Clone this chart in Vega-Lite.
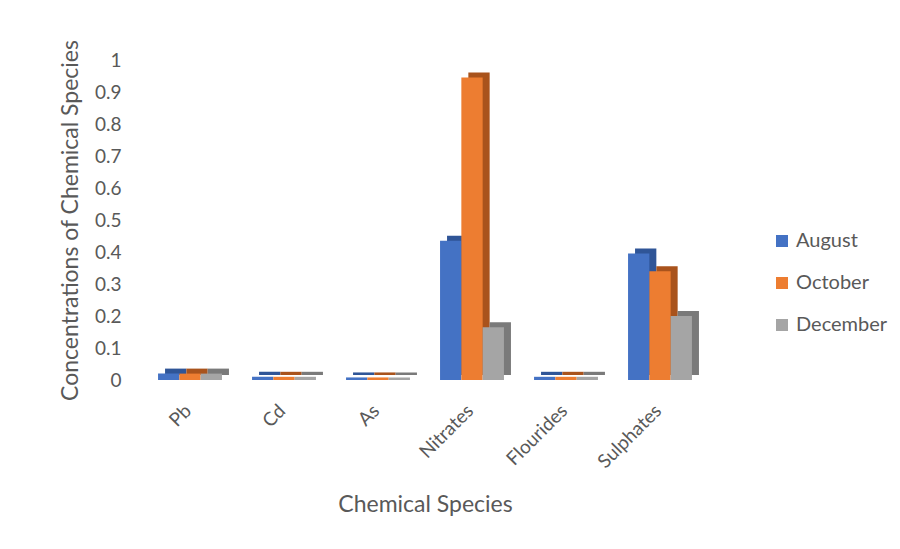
{
  "$schema": "https://vega.github.io/schema/vega-lite/v6.json",
  "autosize": "none",
  "width": 564,
  "height": 320,
  "padding": {"left": 143, "top": 60, "right": 193, "bottom": 169},
  "background": "white",
  "config": {
    "view": {"stroke": null},
    "font": "Lato",
    "axis": {"labelColor": "#595959", "titleColor": "#595959", "labelFont": "Lato", "titleFont": "Lato", "titleFontWeight": "normal"}
  },
  "data": {
    "values": [
      {"species": "Pb", "month": "August", "value": 0.02},
      {"species": "Pb", "month": "October", "value": 0.02},
      {"species": "Pb", "month": "December", "value": 0.02},
      {"species": "Cd", "month": "August", "value": 0.01},
      {"species": "Cd", "month": "October", "value": 0.01},
      {"species": "Cd", "month": "December", "value": 0.01},
      {"species": "As", "month": "August", "value": 0.008},
      {"species": "As", "month": "October", "value": 0.008},
      {"species": "As", "month": "December", "value": 0.008},
      {"species": "Nitrates", "month": "August", "value": 0.435},
      {"species": "Nitrates", "month": "October", "value": 0.945},
      {"species": "Nitrates", "month": "December", "value": 0.165},
      {"species": "Flourides", "month": "August", "value": 0.01},
      {"species": "Flourides", "month": "October", "value": 0.01},
      {"species": "Flourides", "month": "December", "value": 0.01},
      {"species": "Sulphates", "month": "August", "value": 0.395},
      {"species": "Sulphates", "month": "October", "value": 0.34},
      {"species": "Sulphates", "month": "December", "value": 0.2}
    ]
  },
  "encoding": {
    "x": {
      "field": "species",
      "type": "nominal",
      "sort": ["Pb", "Cd", "As", "Nitrates", "Flourides", "Sulphates"],
      "scale": {"paddingInner": 0.32, "paddingOuter": 0.16},
      "axis": {
        "title": "Chemical Species",
        "titleFontSize": 23,
        "titlePadding": 22,
        "labelAngle": -45,
        "labelAlign": "right",
        "labelBaseline": "top",
        "labelFontSize": 19,
        "labelPadding": 21,
        "labelOffset": -8,
        "domain": false,
        "ticks": false
      }
    },
    "y": {
      "field": "value",
      "type": "quantitative",
      "scale": {"domain": [0, 1]},
      "axis": {
        "title": "Concentrations of Chemical Species",
        "titleFontSize": 23,
        "titlePadding": 12,
        "labelFontSize": 19,
        "labelPadding": 22,
        "labelOverlap": false,
        "format": "~g",
        "values": [0, 0.1, 0.2, 0.3, 0.4, 0.5, 0.6, 0.7, 0.8, 0.9, 1],
        "domain": false,
        "ticks": false,
        "grid": false
      }
    }
  },
  "layer": [
    {
      "mark": {"type": "bar", "yOffset": -5},
      "encoding": {
        "xOffset": {
          "field": "month",
          "type": "nominal",
          "sort": ["August", "October", "December"],
          "scale": {"paddingInner": 0, "range": [7, 70.92]}
        },
        "color": {
          "field": "month",
          "type": "nominal",
          "scale": {"domain": ["August", "October", "December"], "range": ["#2F5597", "#A9531C", "#7A7A7A"]},
          "legend": null
        }
      }
    },
    {
      "mark": {"type": "bar"},
      "encoding": {
        "xOffset": {
          "field": "month",
          "type": "nominal",
          "sort": ["August", "October", "December"],
          "scale": {"paddingInner": 0}
        },
        "color": {
          "field": "month",
          "type": "nominal",
          "scale": {"domain": ["August", "October", "December"], "range": ["#4472C4", "#ED7D31", "#A5A5A5"]},
          "legend": {
            "title": null,
            "orient": "none",
            "legendX": 629,
            "legendY": 171,
            "symbolType": "square",
            "symbolSize": 144,
            "symbolStrokeWidth": 0,
            "labelFontSize": 20,
            "labelColor": "#595959",
            "labelFont": "Lato",
            "rowPadding": 22,
            "labelOffset": 4
          }
        }
      }
    }
  ],
  "resolve": {"scale": {"color": "independent", "xOffset": "independent"}}
}
